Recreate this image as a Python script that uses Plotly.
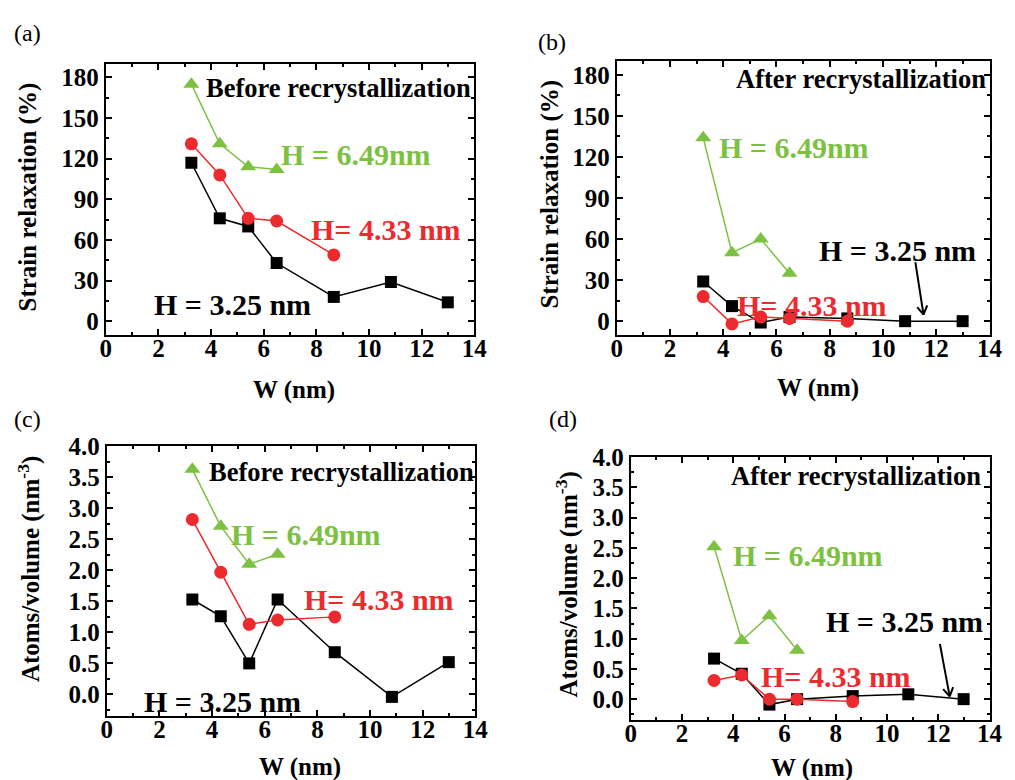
import plotly.graph_objects as go
import math

# ---------------- data ----------------
W_black = [3.25, 4.33, 5.41, 6.49, 8.66, 10.83, 12.99]
W_red = [3.25, 4.33, 5.41, 6.49, 8.66]
W_green = [3.25, 4.33, 5.41, 6.49]

# (a) strain relaxation before recrystallization (%)
a_black = [117, 76, 70, 43, 18, 29, 14]
a_red = [131, 108, 76, 74, 49]
a_green = [175, 131, 114, 112]

# (b) strain relaxation after recrystallization (%)
b_black = [29, 11, -1, 3, 2, 0, 0]
b_red = [18, -2, 3, 2, 0]
b_green = [134, 50, 60, 35]

# (c) atoms/volume before recrystallization (nm^-3)
c_black = [1.53, 1.26, 0.50, 1.53, 0.68, -0.04, 0.52]
c_red = [2.82, 1.97, 1.13, 1.20, 1.25]
c_green = [3.63, 2.71, 2.10, 2.26]

# (d) atoms/volume after recrystallization (nm^-3)
d_black = [0.67, 0.42, -0.09, 0.00, 0.05, 0.08, 0.00]
d_red = [0.31, 0.40, 0.00, 0.00, -0.04]
d_green = [2.52, 0.97, 1.38, 0.81]

BLACK = "#000000"
RED = "#ED2A2E"
GREEN = "#7DC142"
FONT = "Liberation Serif, Times New Roman, serif"

W_PX, H_PX = 1015, 780


def P(x, y):
    return x / W_PX, 1 - y / H_PX


fig = go.Figure()

panels = [
    ("a", "x", "y", (101.7, 477.3), (51.7, 327.3), (a_black, a_red, a_green), [-10, 190], 30, 15, "d"),
    ("b", "x2", "y2", (622.3, 1002.3), (49.0, 327.3), (b_black, b_red, b_green), [-10, 190], 30, 15, "d"),
    ("c", "x3", "y3", (102.7, 478.3), (440.7, 715.0), (c_black, c_red, c_green), [-0.35, 4.0], 0.5, 0.25, ".1f"),
    ("d", "x4", "y4", (636.7, 1002.3), (451.7, 719.3), (d_black, d_red, d_green), [-0.35, 4.0], 0.5, 0.25, ".1f"),
]

layout_axes = {}
for i, (name, xa, ya, xr, yr, data, yrange, dt, mdt, fmt) in enumerate(panels):
    blk, red, grn = data
    fig.add_trace(go.Scatter(x=W_black, y=blk, xaxis=xa, yaxis=ya, mode="lines+markers",
                             line=dict(color=BLACK, width=1.5),
                             marker=dict(symbol="square", size=12, color=BLACK),
                             showlegend=False, cliponaxis=False))
    fig.add_trace(go.Scatter(x=W_red, y=red, xaxis=xa, yaxis=ya, mode="lines+markers",
                             line=dict(color=RED, width=1.5),
                             marker=dict(symbol="circle", size=13, color=RED),
                             showlegend=False, cliponaxis=False))
    fig.add_trace(go.Scatter(x=W_green, y=grn, xaxis=xa, yaxis=ya, mode="lines+markers",
                             line=dict(color=GREEN, width=1.5),
                             marker=dict(symbol="triangle-up", size=14, color=GREEN),
                             showlegend=False, cliponaxis=False))
    suffix = "" if i == 0 else str(i + 1)
    x0, x1 = P(xr[0], 0)[0], P(xr[1], 0)[0]
    y0, y1 = P(0, yr[1])[1], P(0, yr[0])[1]
    common = dict(showline=True, linecolor="black", linewidth=2, mirror="allticks",
                  ticks="inside", ticklen=6, tickwidth=1.5, tickcolor="black",
                  showgrid=False, zeroline=False,
                  tickfont=dict(family=FONT, size=25, color="black", weight="bold"))
    layout_axes["xaxis" + suffix] = dict(
        domain=[x0, x1], range=[0, 14], dtick=2, tick0=0,
        anchor="y" + suffix, ticklabelstandoff=-10,
        minor=dict(dtick=1, ticks="inside", ticklen=3, tickwidth=1.5, tickcolor="black"),
        **common)
    layout_axes["yaxis" + suffix] = dict(
        domain=[y0, y1], range=yrange, dtick=dt, tick0=0, tickformat=fmt,
        anchor="x" + suffix,
        minor=dict(dtick=mdt, ticks="inside", ticklen=3, tickwidth=1.5, tickcolor="black"),
        **common)

fig.update_layout(**layout_axes)

annotations = []


def txt(text, x, y, size, color="black", bold=True, angle=0):
    px, py = P(x, y)
    annotations.append(dict(
        text=text, x=px, y=py, xref="paper", yref="paper",
        xanchor="center", yanchor="middle", showarrow=False, textangle=angle,
        font=dict(family=FONT, size=size, color=color, weight="bold" if bold else "normal")))


# panel labels
txt("(a)", 22, 20, 24, bold=False)
txt("(b)", 556, 30, 24, bold=False)
txt("(c)", 22, 413, 24, bold=False)
txt("(d)", 568, 413, 24, bold=False)

# axis titles
txt("W (nm)", 294, 383, 25)
txt("W (nm)", 827, 381, 25)
txt("W (nm)", 300, 767, 25)
txt("W (nm)", 821, 768, 25)
txt("Strain relaxation (%)", 22, 187, 25, angle=-90)
txt("Strain relaxation (%)", 554, 184, 25, angle=-90)
txt("Atoms/volume (nm<sup>-3</sup>)", 24, 566, 25, angle=-90)
txt("Atoms/volume (nm<sup>-3</sup>)", 572, 581, 25, angle=-90)

# panel (a)
txt("Before recrystallization", 339, 76, 26.5)
txt("H = 6.49nm", 357, 144, 30, GREEN)
txt("H= 4.33 nm", 387, 220, 30, RED)
txt("H = 3.25 nm", 231, 296, 30)
# panel (b)
txt("After recrystallization", 871, 67, 26.5)
txt("H = 6.49nm", 803, 137, 30, GREEN)
txt("H = 3.25 nm", 908, 242, 30)
txt("H= 4.33 nm", 821, 297, 30, RED)
# panel (c)
txt("Before recrystallization", 342, 467, 26.5)
txt("H = 6.49nm", 306, 530, 30, GREEN)
txt("H= 4.33 nm", 380, 596, 30, RED)
txt("H = 3.25 nm", 221, 700, 30)
# panel (d)
txt("After recrystallization", 866, 471, 26.5)
txt("H = 6.49nm", 817, 552, 30, GREEN)
txt("H = 3.25 nm", 916, 619, 30)
txt("H= 4.33 nm", 846, 675, 30, RED)

fig.update_layout(annotations=annotations)

# arrows (open V heads)
shapes = []


def arrow(xs, ys, xe, ye, head=10):
    ang = math.atan2(ye - ys, xe - xs)
    s = P(xs, ys)
    e = P(xe, ye)
    shapes.append(dict(type="line", xref="paper", yref="paper", x0=s[0], y0=s[1], x1=e[0], y1=e[1],
                       line=dict(color="black", width=2)))
    for d in (2.6, -2.6):
        hx = xe + head * math.cos(ang + d)
        hy = ye + head * math.sin(ang + d)
        h = P(hx, hy)
        shapes.append(dict(type="line", xref="paper", yref="paper", x0=e[0], y0=e[1], x1=h[0], y1=h[1],
                           line=dict(color="black", width=2)))


arrow(926.7, 253.3, 935, 306.7)
arrow(951.7, 641.7, 961.7, 695)
fig.update_layout(shapes=shapes)

fig.update_layout(width=W_PX, height=H_PX, margin=dict(l=0, r=0, t=0, b=0),
                  paper_bgcolor="white", plot_bgcolor="white")

fig.write_html("out.html")
